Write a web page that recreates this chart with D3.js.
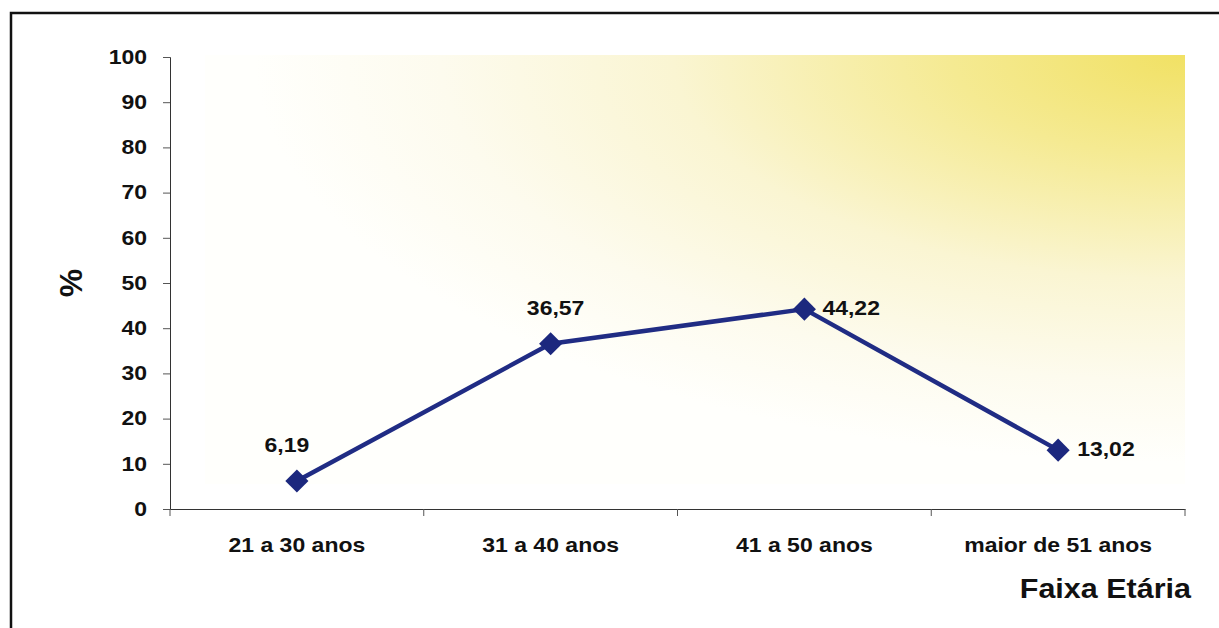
<!DOCTYPE html>
<html>
<head>
<meta charset="utf-8">
<script src="https://cdn.jsdelivr.net/npm/d3@7"></script>
<style>
  body { margin: 0; background: #fff; }
  text { font-family: "Liberation Sans", Arial, sans-serif; font-weight: bold; fill: #111; }
</style>
</head>
<body>
<div id="chart"></div>
<script>
// data
var categories = ["21 a 30 anos", "31 a 40 anos", "41 a 50 anos", "maior de 51 anos"];
var values = [6.19, 36.57, 44.22, 13.02];
var valueLabels = ["6,19", "36,57", "44,22", "13,02"];
var yTicks = [0, 10, 20, 30, 40, 50, 60, 70, 80, 90, 100];

var W = 1219, H = 628;
var m = {left: 170, right: 34, top: 57, bottom: 119};
var stretch = 1.18;   // the scanned text is a bit wider than it is tall

var svg = d3.select("#chart").append("svg").attr("width", W).attr("height", H);

// outer frame (top and left visible)
svg.append("path").attr("d", "M11,628 V13 H1219").attr("fill", "none").attr("stroke", "#111").attr("stroke-width", 2.5);

var x = d3.scaleBand().domain(categories).range([m.left, W - m.right]);
var y = d3.scaleLinear().domain([0, 100]).range([H - m.bottom, m.top]);

// plot background gradient, yellow in the top right corner
var defs = svg.append("defs");
var grad = defs.append("radialGradient").attr("id", "bg")
  .attr("cx", "100%").attr("cy", "0%").attr("r", "95%").attr("fx", "100%").attr("fy", "0%");
grad.append("stop").attr("offset", "0%").attr("stop-color", "#f1e164");
grad.append("stop").attr("offset", "25%").attr("stop-color", "#f5ea92");
grad.append("stop").attr("offset", "55%").attr("stop-color", "#faf5d2");
grad.append("stop").attr("offset", "80%").attr("stop-color", "#fdfbee");
grad.append("stop").attr("offset", "100%").attr("stop-color", "#fffffc");

svg.append("rect")
  .attr("x", m.left + 35).attr("y", y(100) - 2)
  .attr("width", W - m.right - m.left - 35).attr("height", y(5.5) - y(100) + 2)
  .attr("fill", "url(#bg)");

// y axis
var yAxis = d3.axisLeft(y).tickValues(yTicks).tickSize(7).tickPadding(16);
var gy = svg.append("g").attr("transform", "translate(" + m.left + ",0)").call(yAxis);
gy.select(".domain").attr("stroke", "#333").attr("stroke-width", 1);
gy.selectAll(".tick line").attr("stroke", "#555");
gy.selectAll("text").style("font-size", "19.5px").attr("fill", "#111")
  .attr("x", 0).attr("transform", "translate(-23,0) scale(" + stretch + ",1)");

// x axis
var xAxis = d3.axisBottom(x).tickSize(0).tickPadding(29);
var gx = svg.append("g").attr("transform", "translate(0," + y(0) + ")").call(xAxis);
gx.select(".domain").attr("stroke", "#333").attr("stroke-width", 1.2);
gx.selectAll("text").style("font-size", "19.5px").attr("fill", "#111")
  .attr("transform", "scale(" + stretch + ",1)");
// category boundary ticks
var bounds = categories.map(function(c){ return x(c); }).concat([x.range()[1]]);
gx.selectAll(".bnd").data(bounds).enter().append("line")
  .attr("x1", function(d){ return d; }).attr("x2", function(d){ return d; })
  .attr("y1", 0).attr("y2", 7).attr("stroke", "#555");

// axis titles
svg.append("text").attr("transform", "translate(82,283) rotate(-90)")
  .attr("text-anchor", "middle").style("font-size", "32px").text("%");
svg.append("text").attr("transform", "translate(1191,598) scale(1.13,1)")
  .attr("text-anchor", "end").style("font-size", "27px").text("Faixa Etária");

// line
var cx = function(i){ return x(categories[i]) + x.bandwidth() / 2; };
var line = d3.line().x(function(d, i){ return cx(i); }).y(function(d){ return y(d); });
svg.append("path").datum(values).attr("d", line)
  .attr("fill", "none").attr("stroke", "#202c84").attr("stroke-width", 4.5).attr("stroke-linejoin", "round");

// markers
var sym = d3.symbol().type(d3.symbolDiamond2).size(340);
svg.selectAll(".mk").data(values).enter().append("path")
  .attr("d", sym)
  .attr("transform", function(d, i){ return "translate(" + cx(i) + "," + y(d) + ")"; })
  .attr("fill", "#1c287e");

// value labels
var labelPos = [
  {dx: -10, dy: -29, anchor: "middle"},
  {dx: 5, dy: -29, anchor: "middle"},
  {dx: 18, dy: 6, anchor: "start"},
  {dx: 19, dy: 6, anchor: "start"}
];
svg.selectAll(".vl").data(values).enter().append("text")
  .attr("transform", function(d, i){
    return "translate(" + (cx(i) + labelPos[i].dx) + "," + (y(d) + labelPos[i].dy) + ") scale(" + stretch + ",1)";
  })
  .attr("text-anchor", function(d, i){ return labelPos[i].anchor; })
  .style("font-size", "19.5px")
  .text(function(d, i){ return valueLabels[i]; });
</script>
</body>
</html>
